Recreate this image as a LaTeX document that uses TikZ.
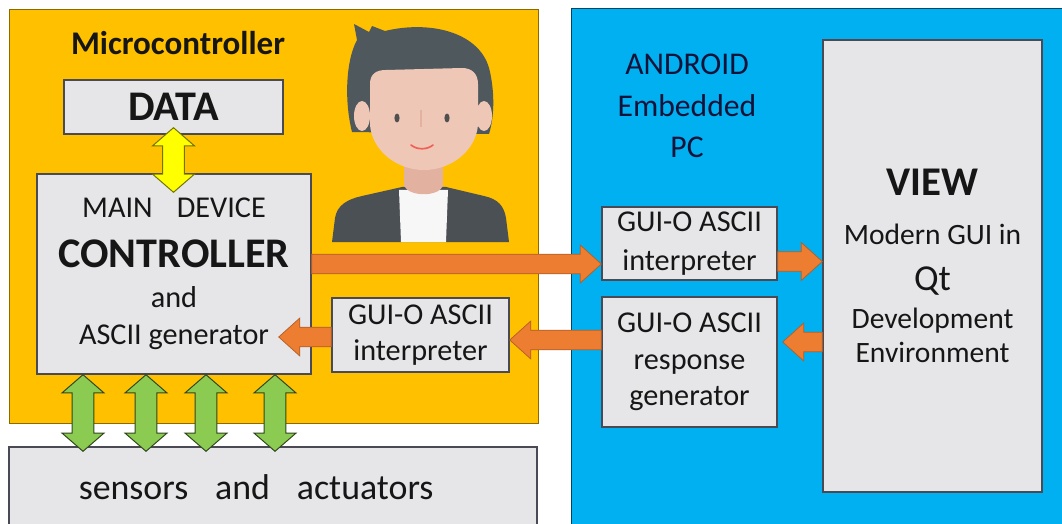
\documentclass[tikz,border=0pt]{standalone}
\usepackage{fontspec}
\setmainfont{Carlito}
\usepackage{tikz}
\usetikzlibrary{calc}
\definecolor{panelgold}{HTML}{FFC000}
\definecolor{panelblue}{HTML}{00B0F0}
\definecolor{boxgrey}{HTML}{E6E6E9}
\definecolor{boxline}{HTML}{4A4A55}
\definecolor{arroworange}{HTML}{ED7D31}
\definecolor{arrowgreen}{HTML}{8CCB52}
\definecolor{arrowyellow}{HTML}{FFFF00}
\definecolor{inkdark}{HTML}{161616}
\definecolor{hairgrey}{HTML}{4F585D}
\definecolor{skin}{HTML}{EFC7B6}
\definecolor{skinshade}{HTML}{E2B19F}
\definecolor{jacketgrey}{HTML}{4B5055}
\newcommand\fsz[2]{\fontsize{#1}{#2}\selectfont}
% horizontal block arrow, shaft at the height of the start point
\newcommand\blockarrow[3][orangearrow]{%
  \draw[#1] let \p1=(#2), \p2=(#3), \n1={(\x2-\x1)/abs(\x2-\x1)} in
    (\x1,\y1+7pt) -- ({\x2-(\n1)*15pt},\y1+7pt) -- ({\x2-(\n1)*15pt},\y1+13.5pt)
    -- (\x2,\y1) -- ({\x2-(\n1)*15pt},\y1-13.5pt) -- ({\x2-(\n1)*15pt},\y1-7pt)
    -- (\x1,\y1-7pt) -- cycle;}
% vertical block arrow with a head at both ends
\newcommand\dblarrow[3][greenarrow]{%
  \draw[#1] let \p1=(#2), \p2=(#3) in
    (\x1,\y1) -- (\x1+15pt,\y1-13pt) -- (\x1+7.8pt,\y1-13pt) -- (\x1+7.8pt,\y2+13pt)
    -- (\x1+15pt,\y2+13pt) -- (\x1,\y2) -- (\x1-15pt,\y2+13pt) -- (\x1-7.8pt,\y2+13pt)
    -- (\x1-7.8pt,\y1-13pt) -- (\x1-15pt,\y1-13pt) -- cycle;}
\tikzset{
  box/.style={draw=boxline,fill=boxgrey,line width=1pt,inner sep=0pt,
    align=center,text=inkdark},
  sized/.style 2 args={minimum width=#1*0.025cm,minimum height=#2*0.025cm},
  orangearrow/.style={fill=arroworange,draw=arroworange!75!black,line width=.5pt},
  greenarrow/.style={fill=arrowgreen,draw=arrowgreen!35!black,line width=.7pt},
  yellowarrow/.style={fill=arrowyellow,draw=arrowyellow!45!black,line width=.7pt},
}

\begin{document}
\begin{tikzpicture}[x=0.025cm,y=-0.025cm]
  \useasboundingbox (0,0) rectangle (1062,524);
  \clip (0,0) rectangle (1062,524);
  % the two panels
  \draw[fill=panelgold,draw=panelgold!55!black,line width=.6pt] (9,9) rectangle (538,423);
  \draw[fill=panelblue,draw=panelblue!40!black,line width=.6pt] (571,8) rectangle (1080,540);
  \node[font=\fsz{23.5}{28}\bfseries,text=inkdark] (mcutitle) at (178,43) {Microcontroller};
  \node[font=\fsz{22.5}{29.5},text=inkdark!85!blue,align=center] (pctitle) at (687,106)
    {ANDROID\\Embedded\\PC};

  % user
  \fill[hairgrey] (352,132) .. controls (344,100) and (346,60) .. (357,40) -- (354,24)
    -- (369,32) -- (372,26) -- (385,31) .. controls (430,20) and (482,32) .. (490,72)
    .. controls (495,95) and (494,118) .. (489,134) -- cycle;
  \fill[skin] (362,116) ellipse (8 and 15);
  \fill[skin] (484,116) ellipse (8 and 15);
  \fill[skinshade] (404,150) rectangle (443,196);
  \fill[skin] (370,84) .. controls (370,74) and (376,70) .. (386,70) -- (462,68)
    .. controls (472,68) and (478,74) .. (478,84) -- (478,125)
    .. controls (476,150) and (452,170) .. (424,170)
    .. controls (396,170) and (372,150) .. (370,125) -- cycle;
  \fill[jacketgrey] (332,242) -- (335,218) .. controls (337,205) and (348,199) .. (362,196)
    -- (402,187) -- (446,187) -- (484,196) .. controls (498,199) and (504,206) .. (506,218)
    -- (509,242) -- cycle;
  \fill[white!94!gray] (399,190) -- (448,190) -- (446,242) -- (401,242) -- cycle;
  \fill[skinshade] (404,186) -- (443,186) .. controls (438,197) and (410,197) .. (404,186) -- cycle;
  \fill[inkdark!75] (397,118) ellipse (2.6 and 4.5);
  \fill[inkdark!75] (447,118) ellipse (2.6 and 4.5);
  \draw[skinshade,line width=.8pt] (421,110) -- (421,127);
  \draw[red!45!skinshade,line width=1.2pt,line cap=round] (411,145)
    .. controls (417,150) and (427,150) .. (433,145);

  % blocks
  \node[box,sized={219}{54},font=\fsz{30}{34}\bfseries] (data) at (173.5,107) {DATA};
  \node[box,sized={274}{200},font=\fsz{21.5}{26.5}] (ctrl) at (174,274)
    {MAIN\hspace{.8em}DEVICE\\[9pt]{\fsz{30}{34}\bfseries CONTROLLER}\\[1.5pt]and\\ASCII generator};
  \node[box,sized={177}{74},font=\fsz{21.5}{25.6}] (lint) at (420.5,335) {GUI-O ASCII\\interpreter};
  \node[box,sized={175}{73},font=\fsz{21.5}{27.5}] (rint) at (689.5,243.5) {GUI-O ASCII\\interpreter};
  \node[box,sized={175}{130},font=\fsz{21.5}{26}] (resp) at (689.5,362)
    {GUI-O ASCII\\response\\generator};
  \node[box,sized={219}{452},font=\fsz{21}{24}] (view) at (932.5,266)
    {{\fsz{29}{32}\bfseries VIEW}\\[10.5pt]Modern GUI in\\[9pt]{\fsz{26}{30}Qt}\\[3pt]Development\\Environment};
  \node[box,sized={528}{80},font=\fsz{25.5}{30}] (sens) at (273,487)
    {sensors\hspace{.75em}and\hspace{.75em}actuators\kern24pt};

  % data flow
  \blockarrow{$(ctrl.east)+(0,-10)$}{rint.west}
  \blockarrow{$(lint.west)+(0,2)$}{$(ctrl.east)+(-33,0)$}
  \blockarrow{$(resp.west)+(0,-22)$}{lint.east}
  \blockarrow{$(rint.east)+(0,18)$}{view.west}
  \blockarrow{$(view.west)+(0,76)$}{$(resp.east)+(5,0)$}
  \dblarrow[yellowarrow]{$(data.south)+(0,-7)$}{$(ctrl.north)+(0,19)$}
  \foreach \gx in {83,146,206,275}
    \dblarrow{ctrl.south -| \gx,0}{$(sens.north -| \gx,0)+(0,5)$};
\end{tikzpicture}
\end{document}
